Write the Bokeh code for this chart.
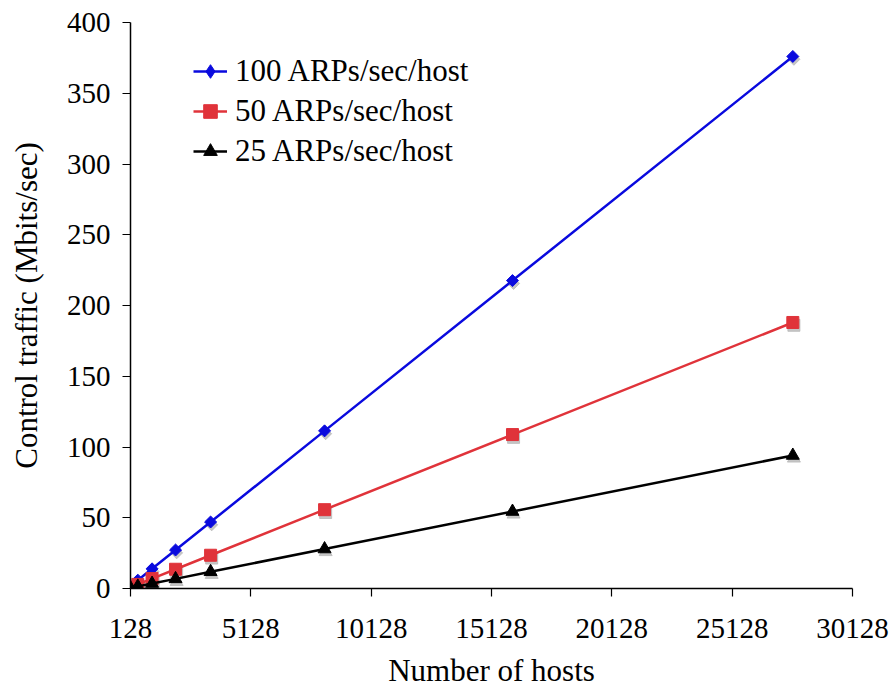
from bokeh.plotting import figure
from bokeh.models import Range1d, FixedTicker, Legend, LegendItem, ColumnDataSource
from bokeh.transform import dodge
from bokeh.embed import file_html
from bokeh.resources import INLINE

# Data
hosts = [128, 432, 1024, 2000, 3456, 8192, 16000, 27648]
arp100 = [1.7, 5.9, 13.9, 27.2, 47.0, 111.4, 217.6, 376.0]
arp50 = [0.9, 2.9, 7.0, 13.6, 23.5, 55.7, 108.8, 188.0]
arp25 = [0.4, 1.5, 3.5, 6.8, 11.8, 27.9, 54.4, 94.0]
series_names = ["100 ARPs/sec/host", "50 ARPs/sec/host", "25 ARPs/sec/host"]
x_ticks = [128, 5128, 10128, 15128, 20128, 25128, 30128]
y_ticks = [0, 50, 100, 150, 200, 250, 300, 350, 400]

FONT = "Liberation Serif"

p = figure(width=892, height=690, output_backend="svg", toolbar_location=None,
           x_range=Range1d(128, 30128), y_range=Range1d(0, 400),
           min_border_left=130, min_border_right=40, min_border_top=22, min_border_bottom=102)
p.outline_line_color = None
p.xgrid.visible = False
p.ygrid.visible = False
p.background_fill_color = "white"
p.border_fill_color = "white"

for ax in (p.xaxis[0], p.yaxis[0]):
    ax.axis_line_color = "black"
    ax.axis_line_width = 1.5
    ax.major_tick_line_color = "black"
    ax.major_tick_line_width = 1.2
    ax.major_tick_in = 0
    ax.major_tick_out = 8
    ax.minor_tick_line_color = None
    ax.major_label_text_font = FONT
    ax.major_label_text_font_size = "29px"
    ax.major_label_text_color = "black"
    ax.axis_label_text_font = FONT
    ax.axis_label_text_font_size = "31px"
    ax.axis_label_text_font_style = "normal"
    ax.axis_label_text_color = "black"

p.xaxis[0].ticker = FixedTicker(ticks=x_ticks)
p.yaxis[0].ticker = FixedTicker(ticks=y_ticks)
p.xaxis[0].axis_label = "Number of hosts"
p.yaxis[0].axis_label = "Control traffic (Mbits/sec)"
p.xaxis[0].major_label_standoff = 22
p.yaxis[0].major_label_standoff = 12
p.xaxis[0].axis_label_standoff = 12
p.yaxis[0].axis_label_standoff = 20

src = ColumnDataSource(dict(x=hosts, a=arp100, b=arp50, c=arp25))

colors = ["#0a0ade", "#e0333a", "#000000"]
cols = ["a", "b", "c"]
markers = ["square", "square", "triangle"]
angles = [0.7854, 0.0, 0.0]
sizes = [8.5, 12, 13]

items = []
# shadows first
for col, mk, ang, sz in zip(cols, markers, angles, sizes):
    p.scatter(x=dodge("x", 45), y=dodge(col, -2.0), source=src, marker=mk, angle=ang,
              size=sz, fill_color="#b8b8b8", line_color="#b8b8b8", fill_alpha=0.8, line_alpha=0.8)

legend_markers = ["diamond", "square", "triangle"]
legend_sizes = [14, 12, 13]
for name, col, color, mk, ang, sz, lmk, lsz in zip(series_names, cols, colors, markers, angles,
                                                   sizes, legend_markers, legend_sizes):
    ln = p.line(x="x", y=col, source=src, line_color=color, line_width=2.5)
    p.scatter(x="x", y=col, source=src, marker=mk, angle=ang, size=sz,
              fill_color=color, line_color=color)
    # hidden twin of the series markers, used only for the legend swatch
    lg = p.scatter(x="x", y=col, source=src, marker=lmk, size=lsz,
                   fill_color=color, line_color=color, visible=False)
    items.append(LegendItem(label=name, renderers=[ln, lg]))

legend = Legend(items=items, location=(63, 417), orientation="vertical",
                border_line_color=None, background_fill_alpha=0,
                label_text_font=FONT, label_text_font_size="31px", label_text_color="black",
                glyph_width=34, glyph_height=40, label_height=40, label_standoff=8,
                spacing=0, padding=0, margin=0)
p.add_layout(legend, "center")

open("out.html", "w").write(file_html(p, INLINE))
